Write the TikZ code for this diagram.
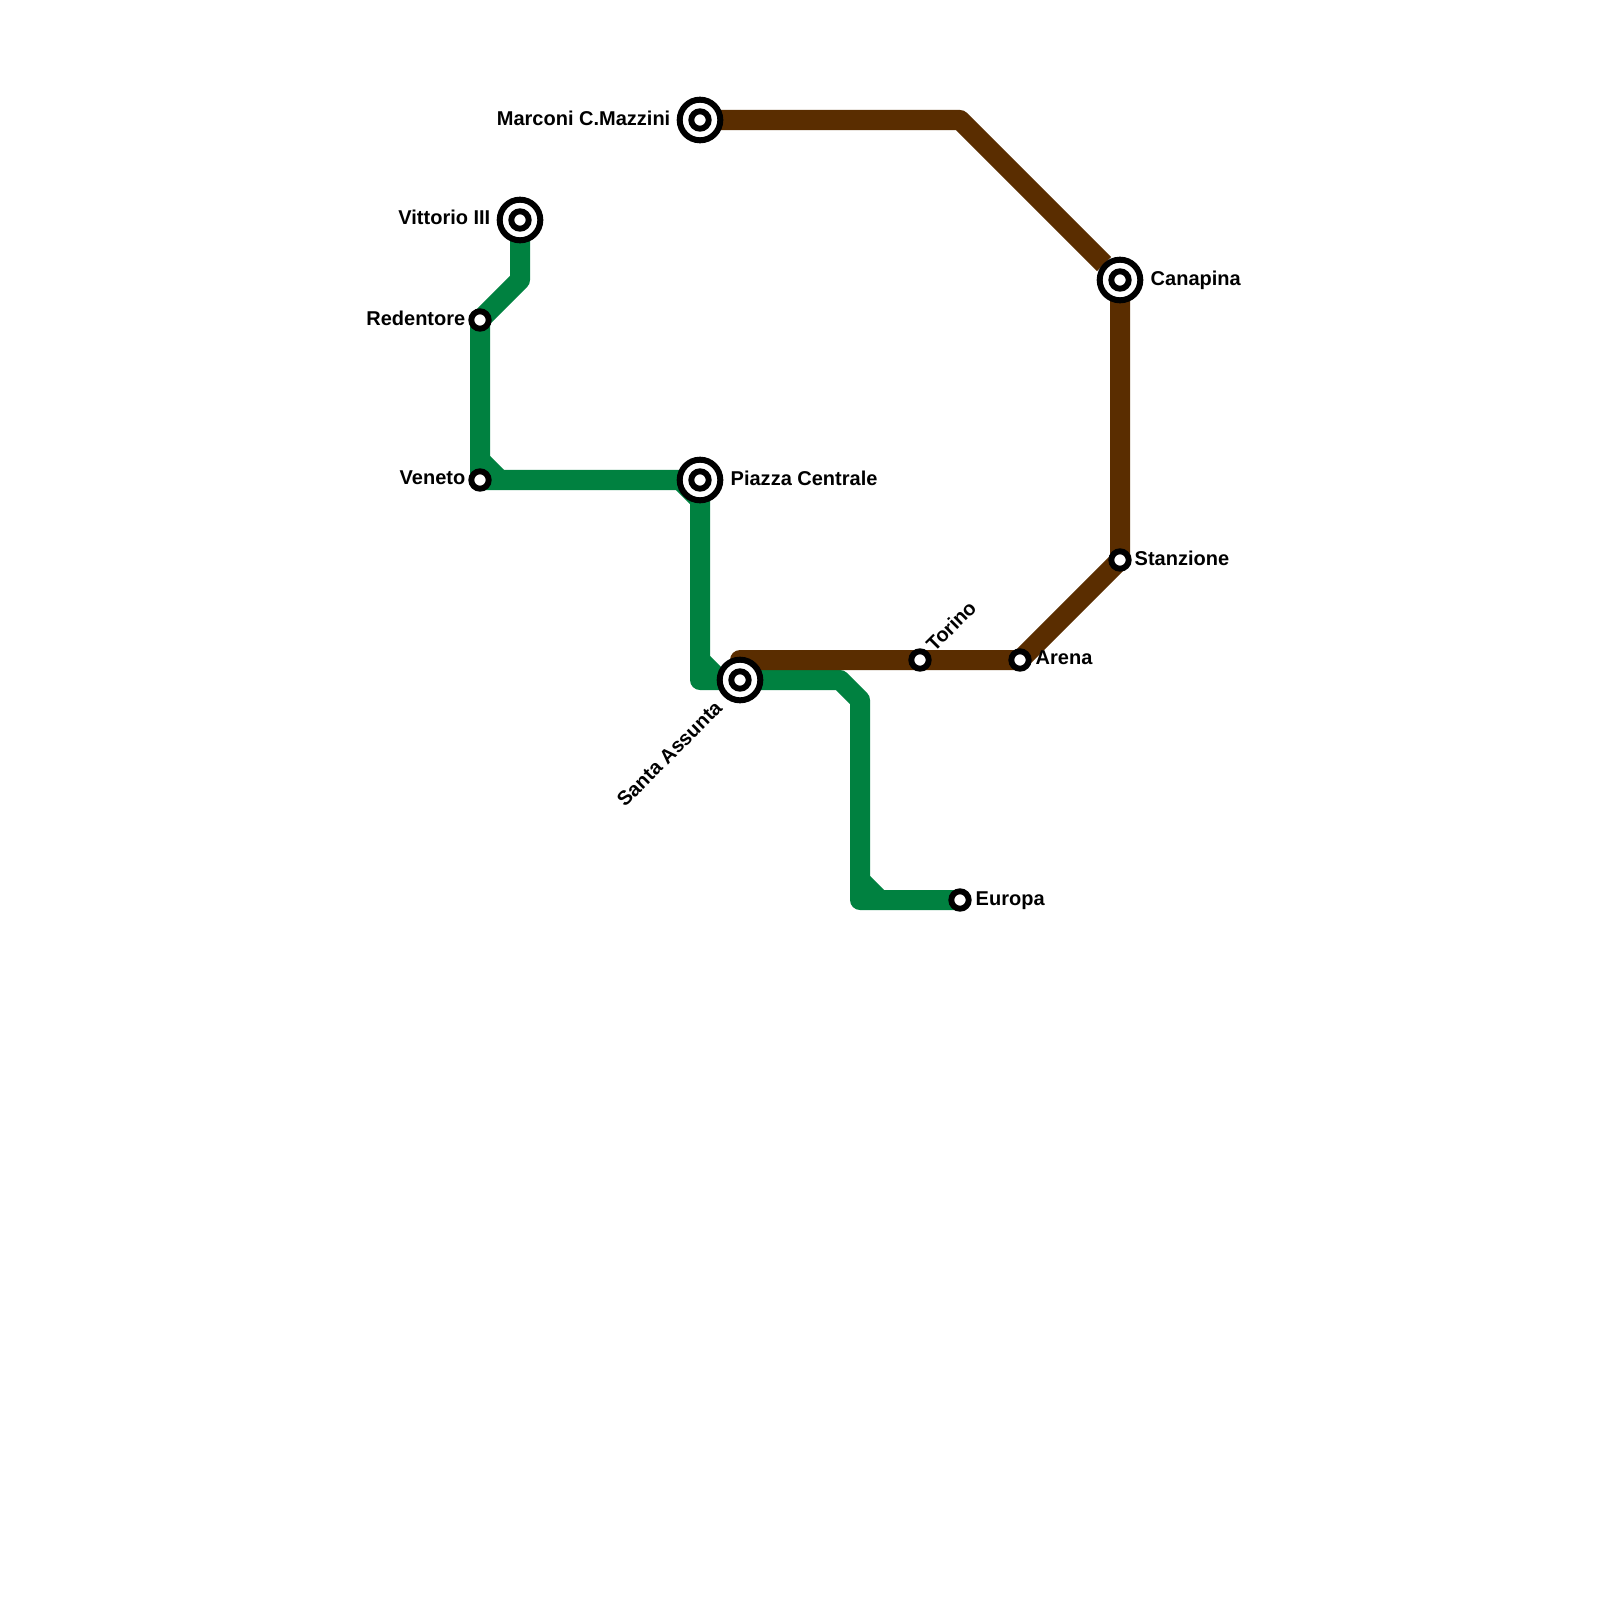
\documentclass[tikz,border=0pt]{standalone}
\usepackage{fontspec}
\setmainfont{Liberation Sans}
\usepackage{tikz}
\usetikzlibrary{backgrounds,calc}
\definecolor{linegreen}{RGB}{0,129,64}
\definecolor{linebrown}{RGB}{90,45,0}
\tikzset{
  greenline/.style={linegreen,line width=0.2cm,line join=round,line cap=round},
  brownline/.style={linebrown,line width=0.2cm,line join=round,line cap=round},
  chamfer/.style={line width=0.2cm,line cap=butt},
  hubring/.style={circle,draw=black,fill=white,line width=0.06cm,minimum size=0.406cm,inner sep=0pt},
  stopdot/.style={circle,draw=black,fill=white,line width=0.059cm,minimum size=0.174cm,inner sep=0pt},
  stoptext/.style={inner sep=0pt,font=\bfseries\fontsize{5.69}{6.8}\selectfont}
}
\begin{document}
\begin{tikzpicture}[x=0.01cm,y=-0.01cm]
\useasboundingbox (0,0) rectangle (1600,1600);
% interchange stations
\foreach \n/\x/\y in {marconi/700/120,vittorio/520/220,canapina/1120/280,piazza/700/480,assunta/740/680}{
  \node[hubring] (\n) at (\x,\y) {};
  \node[stopdot] (\n dot) at (\n) {};
}
% plain stations
\foreach \n/\x/\y in {redentore/480/320,veneto/480/480,stanzione/1120/560,torino/920/660,arena/1020/660,europa/960/900}{
  \node[stopdot] (\n) at (\x,\y) {};
}
% bends
\coordinate (g1) at (520,280);
\coordinate (g2) at (700,680);
\coordinate (g3) at (840,680);
\coordinate (g4) at (860,700);
\coordinate (g5) at (860,900);
\coordinate (b1) at (960,120);
\coordinate (b2) at (740,660);
\coordinate (b3) at (1104,264);
\begin{scope}[on background layer]
\draw[greenline] (vittorio.center) -- (g1) -- (redentore.center) -- (veneto.center) -- (piazza.center) -- (g2) -- (assunta.center) -- (g3) -- (g4) -- (g5) -- (europa.center);
\draw[linegreen,chamfer] ($(veneto)+(0,-20)$) -- ($(veneto)+(20,0)$);
\draw[linegreen,chamfer] ($(piazza)+(-20,0)$) -- ($(piazza)+(0,20)$);
\draw[linegreen,chamfer] ($(g2)+(0,-20)$) -- ($(g2)+(20,0)$);
\draw[linegreen,chamfer] ($(g5)+(0,-20)$) -- ($(g5)+(20,0)$);
\draw[brownline,line cap=butt] (marconi.center) -- (b1) -- (b3);
\draw[brownline] (canapina.center) -- (stanzione.center) -- (arena.center) -- (torino.center) -- (b2) -- (assunta.center);
\end{scope}
% station names
\node[stoptext,anchor=east] (marconi text) at (671,118) {Marconi C.Mazzini};
\node[stoptext,anchor=east] (vittorio text) at (491,217) {Vittorio III};
\node[stoptext,anchor=east] (redentore text) at (466,318) {Redentore};
\node[stoptext,anchor=east] (veneto text) at (466,478) {Veneto};
\node[stoptext,anchor=west] (piazza text) at (730,478) {Piazza Centrale};
\node[stoptext,anchor=west] (canapina text) at (1150,280) {Canapina};
\node[stoptext,anchor=west] (stanzione text) at (1134,558) {Stanzione};
\node[stoptext,anchor=west] (arena text) at (1035,658) {Arena};
\node[stoptext,anchor=west] (europa text) at (975,901) {Europa};
\node[stoptext,anchor=west,rotate=45] (torino text) at (929,648) {Torino};
\node[stoptext,anchor=east,rotate=45] (assunta text) at (719,704) {Santa Assunta};
\end{tikzpicture}
\end{document}
